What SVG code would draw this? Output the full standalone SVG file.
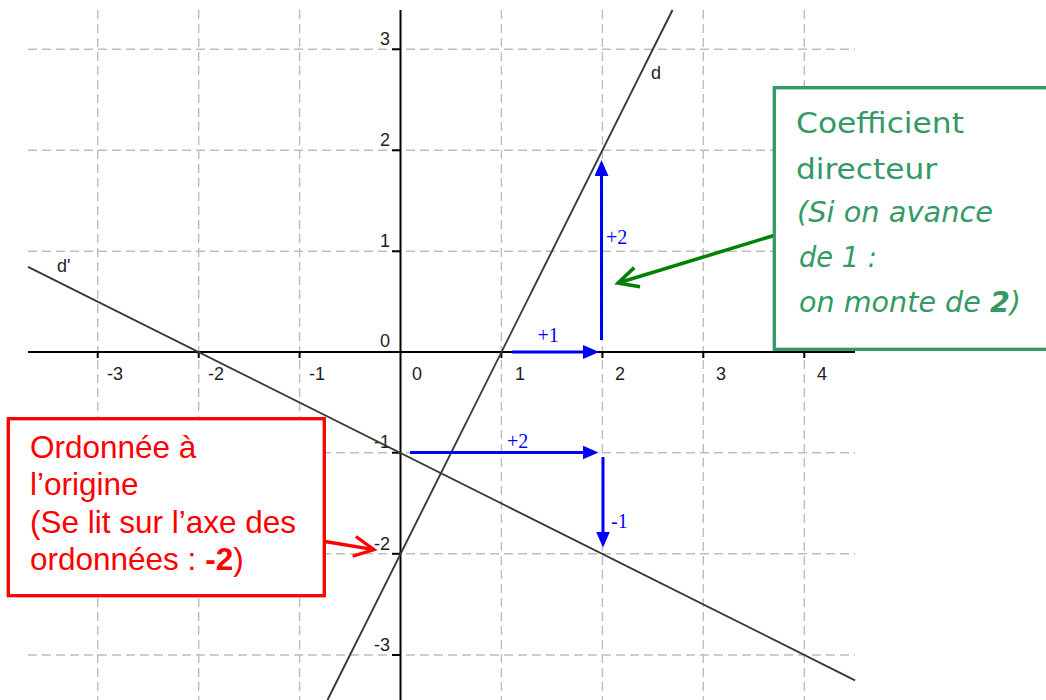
<svg xmlns="http://www.w3.org/2000/svg" width="1046" height="700" viewBox="0 0 1046 700">
  <style>
    .grid { stroke: #bdbdbd; stroke-width: 1.4; stroke-dasharray: 9 5; fill: none; }
    .axis { stroke: #000; stroke-width: 2; fill: none; }
    .tick { stroke: #000; stroke-width: 2; }
    .tl { font-family: "Liberation Sans", Arial, sans-serif; font-size: 18px; fill: #222; }
    .tx { text-anchor: middle; }
    .ty { text-anchor: end; }
    .curve { stroke: #383838; stroke-width: 1.9; fill: none; }
    .blue { stroke: #0000ff; stroke-width: 3; fill: none; }
    .bl { font-family: "Liberation Serif", "Times New Roman", serif; font-size: 20px; fill: #0000ff; }
    .gbox { fill: #fff; stroke: #339966; stroke-width: 3.3; }
    .gt { font-family: "Comic Sans MS", "DejaVu Sans", sans-serif; font-size: 28px; fill: #339966; }
    .rbox { fill: #fff; stroke: #ff0000; stroke-width: 3.3; }
    .rt { font-family: "Liberation Sans", Arial, sans-serif; font-size: 31.5px; fill: #ff0000; }
  </style>
  <defs>
    <marker id="blueHead" viewBox="0 0 16 14" refX="12" refY="7" markerWidth="16" markerHeight="14" markerUnits="userSpaceOnUse" orient="auto">
      <path d="M0,0 L16,7 L0,14 Z" fill="#0000ff"/>
    </marker>
    <marker id="greenHead" viewBox="-26 -16 32 32" refX="0" refY="0" markerWidth="32" markerHeight="32" markerUnits="userSpaceOnUse" orient="auto" overflow="visible">
      <path d="M-20,-10 L0,0 L-20,10" fill="none" stroke="#008000" stroke-width="3.5"/>
    </marker>
    <marker id="redHead" viewBox="-26 -16 32 32" refX="0" refY="0" markerWidth="32" markerHeight="32" markerUnits="userSpaceOnUse" orient="auto" overflow="visible">
      <path d="M-20,-10 L0,0 L-20,10" fill="none" stroke="#ff0000" stroke-width="3.3"/>
    </marker>
  </defs>
  <rect x="0" y="0" width="1046" height="700" fill="#fff"/>

  <g id="grid">
    <line class="grid" x1="97.7" y1="10" x2="97.7" y2="700"/>
    <line class="grid" x1="198.7" y1="10" x2="198.7" y2="700"/>
    <line class="grid" x1="299.6" y1="10" x2="299.6" y2="700"/>
    <line class="grid" x1="501.4" y1="10" x2="501.4" y2="700"/>
    <line class="grid" x1="602.4" y1="10" x2="602.4" y2="700"/>
    <line class="grid" x1="703.3" y1="10" x2="703.3" y2="700"/>
    <line class="grid" x1="804.3" y1="10" x2="804.3" y2="700"/>
    <line class="grid" x1="28" y1="49.3" x2="855" y2="49.3"/>
    <line class="grid" x1="28" y1="150.3" x2="855" y2="150.3"/>
    <line class="grid" x1="28" y1="251.3" x2="855" y2="251.3"/>
    <line class="grid" x1="28" y1="452.7" x2="855" y2="452.7"/>
    <line class="grid" x1="28" y1="553.8" x2="855" y2="553.8"/>
    <line class="grid" x1="28" y1="655" x2="855" y2="655"/>
  </g>

  <g id="axes">
    <line class="axis" x1="28" y1="352" x2="855" y2="352"/>
    <line class="axis" x1="400.5" y1="10" x2="400.5" y2="700"/>
    <g id="ticks">
      <line class="tick" x1="97.7" y1="352" x2="97.7" y2="358"/>
      <line class="tick" x1="198.7" y1="352" x2="198.7" y2="358"/>
      <line class="tick" x1="299.6" y1="352" x2="299.6" y2="358"/>
      <line class="tick" x1="501.4" y1="352" x2="501.4" y2="358"/>
      <line class="tick" x1="602.4" y1="352" x2="602.4" y2="358"/>
      <line class="tick" x1="703.3" y1="352" x2="703.3" y2="358"/>
      <line class="tick" x1="804.3" y1="352" x2="804.3" y2="358"/>
      <line class="tick" x1="392" y1="49.3" x2="400.5" y2="49.3"/>
      <line class="tick" x1="392" y1="150.3" x2="400.5" y2="150.3"/>
      <line class="tick" x1="392" y1="251.3" x2="400.5" y2="251.3"/>
      <line class="tick" x1="392" y1="452.7" x2="400.5" y2="452.7"/>
      <line class="tick" x1="392" y1="553.8" x2="400.5" y2="553.8"/>
      <line class="tick" x1="392" y1="655" x2="400.5" y2="655"/>
    </g>
    <g id="tick-labels">
      <text class="tl tx" x="115" y="379.5">-3</text>
      <text class="tl tx" x="216" y="379.5">-2</text>
      <text class="tl tx" x="317" y="379.5">-1</text>
      <text class="tl tx" x="417" y="379.5">0</text>
      <text class="tl tx" x="520" y="379.5">1</text>
      <text class="tl tx" x="620" y="379.5">2</text>
      <text class="tl tx" x="721" y="379.5">3</text>
      <text class="tl tx" x="822" y="379.5">4</text>
      <text class="tl ty" x="390" y="44.5">3</text>
      <text class="tl ty" x="390" y="145.5">2</text>
      <text class="tl ty" x="390" y="246.5">1</text>
      <text class="tl ty" x="390" y="347">0</text>
      <text class="tl ty" x="390" y="448.3">-1</text>
      <text class="tl ty" x="390" y="549.5">-2</text>
      <text class="tl ty" x="390" y="650.5">-3</text>
    </g>
  </g>

  <g id="line-d">
    <line class="curve" x1="672.5" y1="10" x2="327.5" y2="700"/>
    <text class="tl" x="651" y="79.3">d</text>
  </g>
  <g id="line-d-prime">
    <line class="curve" x1="28" y1="266.8" x2="855" y2="680.3"/>
    <text class="tl" x="57" y="271.5">d'</text>
  </g>

  <g id="connectors">
    <line class="blue" x1="512" y1="352" x2="595" y2="352" marker-end="url(#blueHead)"/>
    <line class="blue" x1="601.5" y1="340" x2="601.5" y2="164" marker-end="url(#blueHead)"/>
    <line class="blue" x1="410" y1="452.5" x2="594.5" y2="452.5" marker-end="url(#blueHead)"/>
    <line class="blue" x1="603" y1="457" x2="603" y2="543.5" marker-end="url(#blueHead)"/>
    <line x1="774" y1="235.5" x2="618" y2="283" stroke="#008000" stroke-width="3.5" marker-end="url(#greenHead)"/>
    <line x1="325" y1="541.5" x2="374" y2="549.6" stroke="#ff0000" stroke-width="3.3" marker-end="url(#redHead)"/>
  </g>

  <g id="step-labels">
    <text class="bl" x="537.5" y="341.5">+1</text>
    <text class="bl" x="606" y="244">+2</text>
    <text class="bl" x="507" y="447.5">+2</text>
    <text class="bl" x="611" y="527.5">-1</text>
  </g>

  <g id="node-coefficient">
    <rect class="gbox" x="774.3" y="87.7" width="280" height="261.6"/>
    <text class="gt" x="796" y="133.3" textLength="168" lengthAdjust="spacingAndGlyphs">Coefficient</text>
    <text class="gt" x="796" y="179" textLength="141" lengthAdjust="spacingAndGlyphs">directeur</text>
    <text class="gt" x="797" y="221.7" font-style="italic" textLength="196" lengthAdjust="spacingAndGlyphs">(Si on avance</text>
    <text class="gt" x="799" y="266.7" font-style="italic" textLength="78" lengthAdjust="spacingAndGlyphs">de 1 :</text>
    <text class="gt" x="799" y="311.7" font-style="italic" textLength="222" lengthAdjust="spacingAndGlyphs">on monte de <tspan font-weight="bold">2</tspan>)</text>
  </g>

  <g id="node-ordonnee">
    <rect class="rbox" x="8.3" y="418.7" width="316" height="177"/>
    <text class="rt" x="30" y="458.3">Ordonnée à</text>
    <text class="rt" x="30" y="495">l’origine</text>
    <text class="rt" x="30" y="532.7">(Se lit sur l’axe des</text>
    <text class="rt" x="30" y="570">ordonnées : <tspan font-weight="bold">-2</tspan>)</text>
  </g>
</svg>
